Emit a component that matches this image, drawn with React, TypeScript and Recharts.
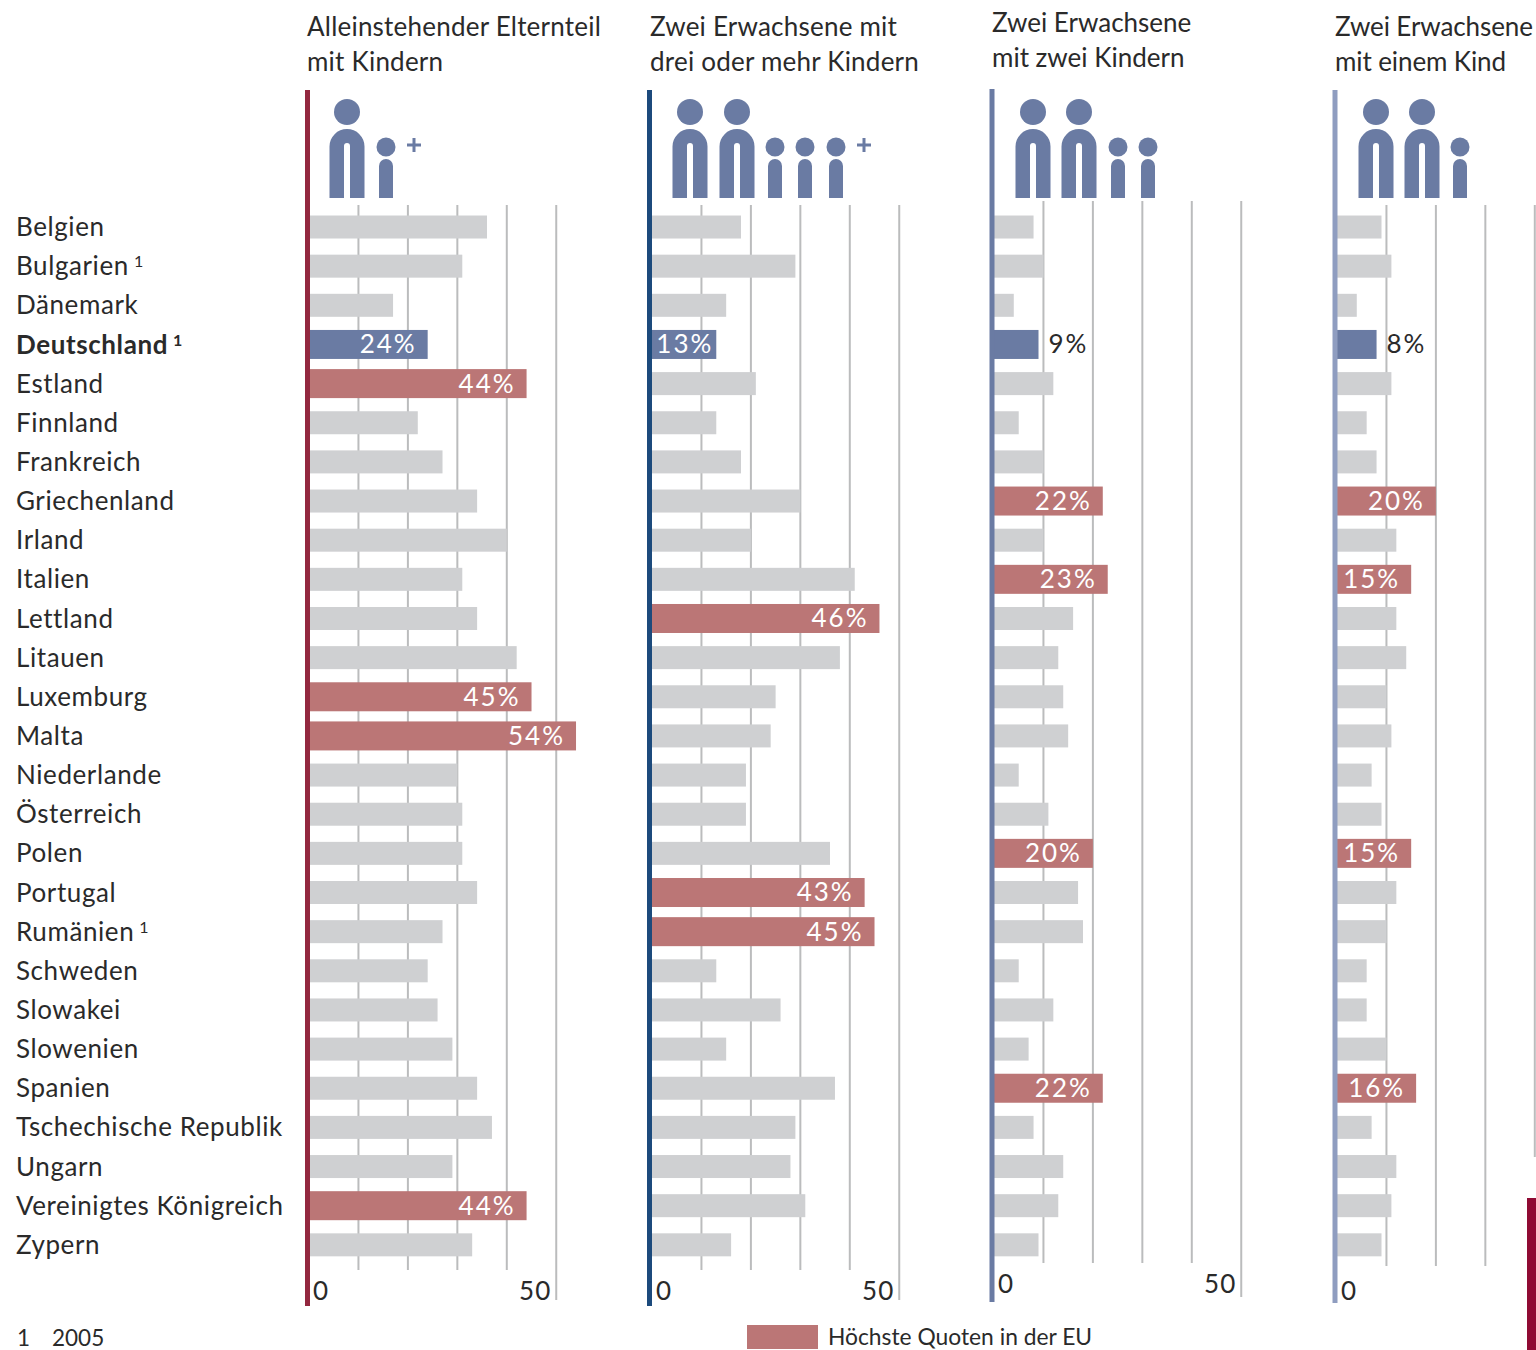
import { Bar, BarChart, CartesianGrid, LabelList, XAxis, YAxis } from 'recharts'

const countries = [
  'Belgien', 'Bulgarien', 'Dänemark', 'Deutschland', 'Estland', 'Finnland', 'Frankreich',
  'Griechenland', 'Irland', 'Italien', 'Lettland', 'Litauen', 'Luxemburg', 'Malta',
  'Niederlande', 'Österreich', 'Polen', 'Portugal', 'Rumänien', 'Schweden', 'Slowakei',
  'Slowenien', 'Spanien', 'Tschechische Republik', 'Ungarn', 'Vereinigtes Königreich', 'Zypern',
]
const footnoted = ['Bulgarien', 'Deutschland', 'Rumänien']

const singleParent = [36, 31, 17, 24, 44, 22, 27, 34, 40, 31, 34, 42, 45, 54, 30, 31, 31, 34, 27, 24, 26, 29, 34, 37, 29, 44, 33]
const threeChildren = [18, 29, 15, 13, 21, 13, 18, 30, 20, 41, 46, 38, 25, 24, 19, 19, 36, 43, 45, 13, 26, 15, 37, 29, 28, 31, 16]
const twoChildren = [8, 10, 4, 9, 12, 5, 10, 22, 10, 23, 16, 13, 14, 15, 5, 11, 20, 17, 18, 5, 12, 7, 22, 8, 14, 13, 9]
const oneChild = [9, 11, 4, 8, 11, 6, 8, 20, 12, 15, 12, 14, 10, 11, 7, 9, 15, 12, 10, 6, 6, 10, 16, 7, 12, 11, 9]

const highSingleParent = ['Estland', 'Luxemburg', 'Malta', 'Vereinigtes Königreich']
const highThreeChildren = ['Lettland', 'Portugal', 'Rumänien']
const highTwoChildren = ['Griechenland', 'Italien', 'Polen', 'Spanien']
const highOneChild = ['Griechenland', 'Italien', 'Polen', 'Spanien']

const FONT = 'Lato, "Liberation Sans", sans-serif'
const TEXT = '#2a2a2a'
const GRID = '#bbbcbd'
const GREY = '#cfd0d2'
const BLUE = '#6a7ba3'
const RED = '#bb7676'
const SPACING = 0.6

const panels = [
  {
    left: 309, values: singleParent, high: highSingleParent, rule: '#93283f', ruleX: 307.5, ruleTop: 90, ruleBottom: 1306,
    minor: [10, 20, 30, 40], major: [50], axisTicks: [0, 50], gridTop: 205, minorBottom: 1270, majorBottom: 1300, tickY: 1300,
    title: ['Alleinstehender Elternteil', 'mit Kindern'], titleX: 307, titleY: 36, titleSpacing: 0.22,
    adults: [347], kids: [386], plus: 414,
  },
  {
    left: 652, values: threeChildren, high: highThreeChildren, rule: '#1c4a7c', ruleX: 649.5, ruleTop: 90, ruleBottom: 1306,
    minor: [10, 20, 30, 40], major: [50], axisTicks: [0, 50], gridTop: 205, minorBottom: 1270, majorBottom: 1300, tickY: 1300,
    title: ['Zwei Erwachsene mit', 'drei oder mehr Kindern'], titleX: 650, titleY: 36, titleSpacing: 0.22,
    adults: [690, 737], kids: [775, 805, 836], plus: 864,
  },
  {
    left: 994, values: twoChildren, high: highTwoChildren, rule: '#6a7ba3', ruleX: 992, ruleTop: 89, ruleBottom: 1302,
    minor: [10, 20, 30, 40], major: [50], axisTicks: [0, 50], gridTop: 201, minorBottom: 1263, majorBottom: 1297, tickY: 1293,
    title: ['Zwei Erwachsene', 'mit zwei Kindern'], titleX: 992, titleY: 32, titleSpacing: 0,
    adults: [1033, 1079], kids: [1118, 1148], plus: null,
  },
  {
    left: 1337, values: oneChild, high: highOneChild, rule: '#8f9dc0', ruleX: 1335, ruleTop: 90, ruleBottom: 1303,
    minor: [10, 20, 30], major: [40], axisTicks: [0], gridTop: 205, minorBottom: 1266, majorBottom: 1157, tickY: 1300,
    title: ['Zwei Erwachsene', 'mit einem Kind'], titleX: 1335, titleY: 36, titleSpacing: -0.1,
    adults: [1376, 1422], kids: [1460], plus: null,
  },
]

type Panel = (typeof panels)[number]

function RowBar(props: any) {
  const { x, y, width, height, payload } = props
  const isGrey = payload.kind === 'plain'
  const barHeight = isGrey ? 23 : 29
  const fill = isGrey ? GREY : payload.kind === 'de' ? BLUE : RED
  return <rect x={x} y={y + (height - barHeight) / 2} width={width} height={barHeight} fill={fill} />
}

function BarValue(props: any) {
  const { x, y, width, height, value } = props
  if (!value) return null
  const outside = width < 50
  const inset = width < 70 ? 3 : 11
  return (
    <text
      x={outside ? x + width + 10 : x + width - inset}
      y={y + height / 2 + 9}
      textAnchor={outside ? 'start' : 'end'}
      fill={outside ? TEXT : '#fff'}
      fontSize={26}
      letterSpacing={2}
      fontFamily={FONT}
    >
      {value}
    </text>
  )
}

function CountryTick(props: any) {
  const name = props.payload.value
  const isGermany = name === 'Deutschland'
  return (
    <text
      x={16}
      y={props.y + 9}
      fill={TEXT}
      fontSize={26}
      letterSpacing={SPACING}
      fontWeight={isGermany ? 700 : 400}
      fontFamily={FONT}
    >
      {name}
      {footnoted.includes(name) && (
        <tspan dx={5} dy={-8} fontSize={16}>1</tspan>
      )}
    </text>
  )
}

function ScaleTick(props: any) {
  const { x, payload, baseline } = props
  const isZero = payload.value === 0
  return (
    <text
      x={isZero ? x + 4 : x - 5}
      y={baseline}
      textAnchor={isZero ? 'start' : 'end'}
      fill={TEXT}
      fontSize={26}
      letterSpacing={1}
      fontFamily={FONT}
    >
      {payload.value}
    </text>
  )
}

function PanelChart({ panel, first }: { panel: Panel; first: boolean }) {
  const rows = countries.map((name, i) => ({
    name,
    value: panel.values[i],
    kind: name === 'Deutschland' ? 'de' : panel.high.includes(name) ? 'high' : 'plain',
    label: name === 'Deutschland' || panel.high.includes(name) ? `${panel.values[i]}%` : undefined,
  }))
  const plotTop = 207.5
  const plotBottom = 1264.5
  const axisWidth = first ? panel.left : 0
  const plotWidth = 296.7

  return (
    <div style={{ position: 'absolute', left: panel.left - axisWidth, top: 0 }}>
      <BarChart
        width={axisWidth + plotWidth + 6}
        height={1350}
        data={rows}
        layout="vertical"
        barSize={29}
        margin={{ top: plotTop, bottom: 1350 - plotBottom - 30, left: 0, right: 6 }}
      >
        <CartesianGrid
          horizontal={false}
          xAxisId="main"
          verticalValues={panel.minor}
          y={panel.gridTop}
          height={panel.minorBottom - panel.gridTop}
          stroke={GRID}
          strokeWidth={2}
        />
        <CartesianGrid
          horizontal={false}
          xAxisId="main"
          verticalValues={panel.major}
          y={panel.gridTop}
          height={panel.majorBottom - panel.gridTop}
          stroke={GRID}
          strokeWidth={2}
        />
        <XAxis
          xAxisId="main"
          type="number"
          domain={[0, 60]}
          ticks={panel.axisTicks}
          interval={0}
          height={30}
          axisLine={false}
          tickLine={false}
          tick={<ScaleTick baseline={panel.tickY} />}
        />
        <YAxis
          type="category"
          dataKey="name"
          width={axisWidth}
          hide={!first}
          interval={0}
          axisLine={false}
          tickLine={false}
          tick={<CountryTick />}
        />
        <Bar dataKey="value" xAxisId="main" shape={<RowBar />} isAnimationActive={false}>
          <LabelList dataKey="label" content={<BarValue />} />
        </Bar>
      </BarChart>
    </div>
  )
}

function Adult({ cx }: { cx: number }) {
  return (
    <g fill={BLUE}>
      <circle cx={cx} cy={112} r={13} />
      <path
        d={`M${cx - 17.5} 198 V146.5 A17.5 17.5 0 0 1 ${cx + 17.5} 146.5 V198 H${cx + 3} V146 A3 3 0 0 0 ${cx - 3} 146 V198 Z`}
      />
    </g>
  )
}

function Kid({ cx }: { cx: number }) {
  return (
    <g fill={BLUE}>
      <circle cx={cx} cy={147} r={9.5} />
      <path d={`M${cx - 7} 198 V166 A7 7 0 0 1 ${cx + 7} 166 V198 Z`} />
    </g>
  )
}

function Overlay() {
  return (
    <svg width={1536} height={1350} style={{ position: 'absolute', left: 0, top: 0 }}>
      {panels.map((p) => (
        <g key={p.left}>
          <rect x={p.ruleX - 2.5} y={p.ruleTop} width={5} height={p.ruleBottom - p.ruleTop} fill={p.rule} />
          {p.title.map((line, i) => (
            <text
              key={line}
              x={p.titleX}
              y={p.titleY + i * 35}
              fill={TEXT}
              fontSize={26}
              letterSpacing={p.titleSpacing}
              fontFamily={FONT}
            >
              {line}
            </text>
          ))}
          {p.adults.map((cx) => <Adult key={cx} cx={cx} />)}
          {p.kids.map((cx) => <Kid key={cx} cx={cx} />)}
          {p.plus !== null && (
            <path d={`M${p.plus - 7} 145 H${p.plus + 7} M${p.plus} 138 V152`} stroke={BLUE} strokeWidth={3} />
          )}
        </g>
      ))}
      <text x={17} y={1346} fill={TEXT} fontSize={22.5} fontFamily={FONT}>1</text>
      <text x={52} y={1346} fill={TEXT} fontSize={22.5} fontFamily={FONT}>2005</text>
      <rect x={747} y={1325} width={71} height={24} fill={RED} />
      <text x={828} y={1345} fill={TEXT} fontSize={22.8} fontFamily={FONT}>
        Höchste Quoten in der EU
      </text>
      <rect x={1527} y={1198} width={9} height={152} fill="#8f0a33" />
    </svg>
  )
}

export default function App() {
  return (
    <div style={{ position: 'absolute', left: 0, top: 0, width: 1536, height: 1350, overflow: 'hidden', background: '#fff' }}>
      {panels.map((p, i) => (
        <PanelChart key={p.left} panel={p} first={i === 0} />
      ))}
      <Overlay />
    </div>
  )
}
